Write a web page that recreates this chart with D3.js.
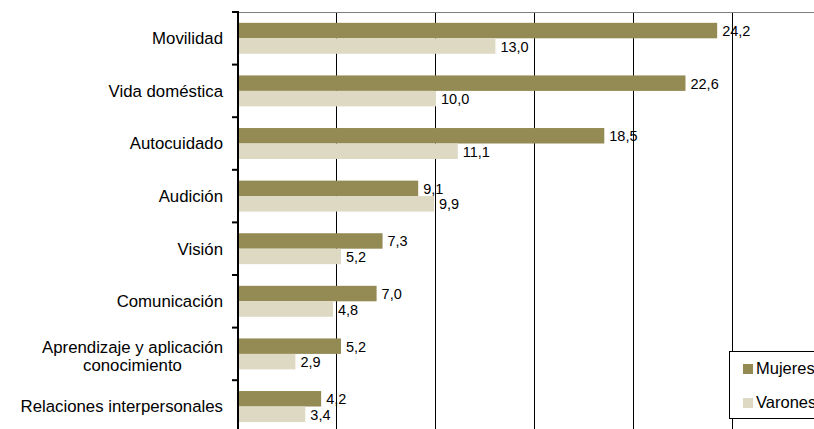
<!DOCTYPE html>
<html>
<head>
<meta charset="utf-8">
<script src="https://cdn.jsdelivr.net/npm/d3@7"></script>
<style>
  html, body { margin: 0; padding: 0; background: #fff; }
  svg { display: block; font-family: "Liberation Sans", Arial, sans-serif; }
</style>
</head>
<body>
<svg id="chart" width="814" height="429"></svg>
<script>
// Tipos de discapacidad, porcentaje por sexo
const categories = [
  "Movilidad",
  "Vida doméstica",
  "Autocuidado",
  "Audición",
  "Visión",
  "Comunicación",
  "Aprendizaje y aplicación\nconocimiento",
  "Relaciones interpersonales"
];
const seriesNames = ["Mujeres", "Varones"];
const mujeres = [24.2, 22.6, 18.5, 9.1, 7.3, 7.0, 5.2, 4.2];
const varones = [13.0, 10.0, 11.1, 9.9, 5.2, 4.8, 2.9, 3.4];
const xTicks = [0, 5, 10, 15, 20, 25, 30];
const colors = { Mujeres: "#948A54", Varones: "#DDD9C3" };

const svg = d3.select("#chart");
const fmt = v => d3.format(".1f")(v).replace(".", ",");

const x = d3.scaleLinear().domain([0, 30]).range([238, 832]);
const y = d3.scaleBand().domain(categories).range([12, 432.8]).padding(0);
const ySub = d3.scaleBand().domain(seriesNames).range([0, y.bandwidth()])
  .paddingInner(0).paddingOuter(0.7);

const rows = categories.map((c, i) => ({ cat: c, Mujeres: mujeres[i], Varones: varones[i] }));

// Vertical gridlines
svg.append("g").selectAll("line")
  .data(xTicks.filter(t => t > 0))
  .join("line")
  .attr("x1", d => Math.round(x(d)) - 0.5).attr("x2", d => Math.round(x(d)) - 0.5)
  .attr("y1", 12).attr("y2", 429)
  .attr("stroke", "#000").attr("stroke-width", 1);

// Top border of the plot area
svg.append("line")
  .attr("x1", x(0)).attr("x2", 814)
  .attr("y1", 12.5).attr("y2", 12.5)
  .attr("stroke", "#808080").attr("stroke-width", 1);

// Bars
const groups = svg.append("g").selectAll("g")
  .data(rows).join("g")
  .attr("transform", d => `translate(0,${y(d.cat)})`);

groups.selectAll("rect")
  .data(d => seriesNames.map(s => ({ s, v: d[s] })))
  .join("rect")
  .attr("x", x(0))
  .attr("y", d => ySub(d.s))
  .attr("width", d => x(d.v) - x(0))
  .attr("height", ySub.bandwidth())
  .attr("fill", d => colors[d.s]);

// Value labels
groups.selectAll("text")
  .data(d => seriesNames.map(s => ({ s, v: d[s] })))
  .join("text")
  .attr("x", d => x(d.v) + 5)
  .attr("y", d => ySub(d.s) + ySub.bandwidth() / 2 + 5.5)
  .attr("font-size", 14.5)
  .attr("fill", "#000")
  .text(d => fmt(d.v));

// Category axis
const yAxis = d3.axisLeft(y).tickSize(0).tickFormat("");
const axisG = svg.append("g").attr("transform", `translate(${x(0)},0)`).call(yAxis);
axisG.select(".domain").remove();
axisG.append("line")
  .attr("x1", 0).attr("x2", 0).attr("y1", 11).attr("y2", 429)
  .attr("stroke", "#000").attr("stroke-width", 2);
// Tick marks on the band boundaries
axisG.selectAll(".bound")
  .data(categories.map(c => y(c)))
  .join("line")
  .attr("class", "bound")
  .attr("x1", -6).attr("x2", 0)
  .attr("y1", d => d).attr("y2", d => d)
  .attr("stroke", "#000").attr("stroke-width", 2);

// Category labels (multi-line labels centred on their first line)
const labelG = svg.append("g");
categories.forEach(c => {
  const lines = c.split("\n");
  const cy = y(c) + y.bandwidth() / 2 + (lines.length > 1 ? 2 : 0);
  const lh = 18;
  const first = labelG.append("text")
    .attr("x", 223)
    .attr("y", cy - (lines.length - 1) * lh / 2)
    .attr("dy", "0.35em")
    .attr("text-anchor", "end")
    .attr("font-size", 16.8)
    .attr("fill", "#000")
    .text(lines[0]);
  if (lines.length > 1) {
    const w = first.node().getComputedTextLength();
    const mid = 223 - w / 2;
    first.attr("x", mid).attr("text-anchor", "middle");
    lines.slice(1).forEach((ln, k) => {
      labelG.append("text")
        .attr("x", mid)
        .attr("y", cy - (lines.length - 1) * lh / 2 + (k + 1) * lh)
        .attr("dy", "0.35em")
        .attr("text-anchor", "middle")
        .attr("font-size", 16.8)
        .attr("fill", "#000")
        .text(ln);
    });
  }
});

// Legend
const legend = svg.append("g");
legend.append("rect")
  .attr("x", 729.5).attr("y", 351.5)
  .attr("width", 120).attr("height", 67)
  .attr("fill", "#fff").attr("stroke", "#000").attr("stroke-width", 1);
seriesNames.forEach((s, i) => {
  const ly = 364 + i * 34;
  legend.append("rect")
    .attr("x", 743).attr("y", ly)
    .attr("width", 10).attr("height", 10)
    .attr("fill", colors[s]);
  legend.append("text")
    .attr("x", 756).attr("y", ly + 10)
    .attr("font-size", 16.5)
    .attr("fill", "#000")
    .text(s);
});
</script>
</body>
</html>
